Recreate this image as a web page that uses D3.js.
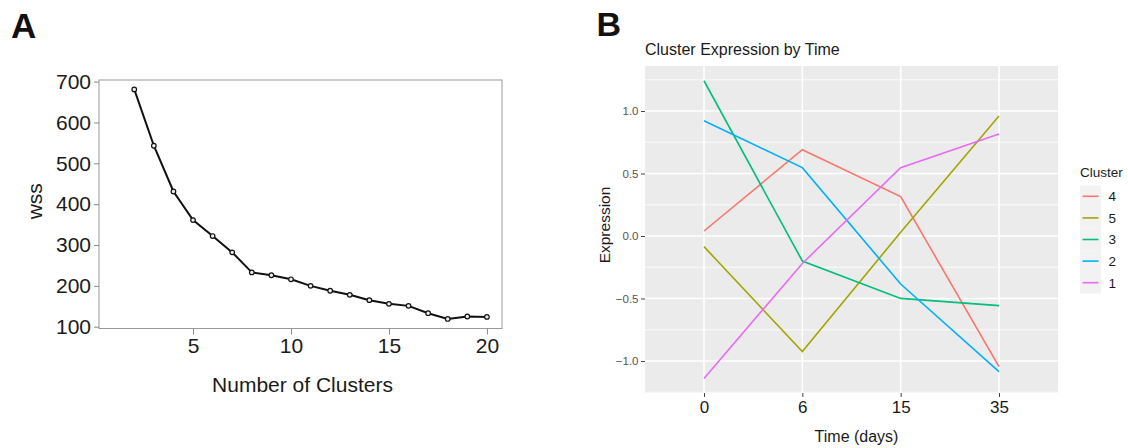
<!DOCTYPE html>
<html>
<head>
<meta charset="utf-8">
<script src="https://cdn.jsdelivr.net/npm/d3@7"></script>
<style>
    body { margin: 0; background: #fff; }
    svg { font-family: "Liberation Sans", Arial, sans-serif; }
</style>
</head>
<body>
<svg id="fig" width="1128" height="448"></svg>
<script>
// panel A - elbow plot
let clusterCounts = [2, 3, 4, 5, 6, 7, 8, 9, 10, 11, 12, 13, 14, 15, 16, 17, 18, 19, 20];
let wssValues = [681, 543, 431, 361, 322, 282, 233, 226, 216, 200, 188, 178, 165, 156, 151, 133, 119, 125, 124];
let wssTicks = [100, 200, 300, 400, 500, 600, 700];
let countTicks = [5, 10, 15, 20];

// panel B - expression by time
let timeDays = ["0", "6", "15", "35"];
let clusterNames = ["4", "5", "3", "2", "1"];
let cluster4 = [0.04, 0.69, 0.315, -1.045];
let cluster5 = [-0.085, -0.925, 0.03, 0.96];
let cluster3 = [1.242, -0.20, -0.499, -0.557];
let cluster2 = [0.922, 0.547, -0.384, -1.085];
let cluster1 = [-1.14, -0.22, 0.547, 0.816];
let clusterColors = ["#F8766D", "#A3A500", "#00BF7D", "#00B0F6", "#E76BF3"];
let exprMajor = [-1.0, -0.5, 0.0, 0.5, 1.0];
let exprMinor = [-1.25, -0.75, -0.25, 0.25, 0.75, 1.25];

let svg = d3.select("#fig");

function drawPanelA() {
    let left = 99, right = 502, top = 80, bottom = 328.5;
    let x = d3.scaleLinear().domain([0.2, 20.77]).range([left, right]);
    let y = d3.scaleLinear().domain([95.6, 704]).range([bottom, top]);
    let g = svg.append("g");

    g.append("text").attr("x", 11).attr("y", 38)
        .attr("font-size", 35).attr("font-weight", "bold").attr("fill", "#111")
        .text("A");

    g.append("rect")
        .attr("x", left).attr("y", top)
        .attr("width", right - left).attr("height", bottom - top)
        .attr("fill", "none").attr("stroke", "#9a9a9a").attr("stroke-width", 1);

    let yAxis = g.append("g")
        .attr("transform", "translate(" + left + ",0)")
        .call(d3.axisLeft(y).tickValues(wssTicks).tickSize(5).tickPadding(3));
    let xAxis = g.append("g")
        .attr("transform", "translate(0," + bottom + ")")
        .call(d3.axisBottom(x).tickValues(countTicks).tickSize(6).tickPadding(3.5));
    [xAxis, yAxis].forEach(function (ax) {
        ax.select(".domain").remove();
        ax.selectAll(".tick line").attr("stroke", "#8a8a8a");
        ax.selectAll(".tick text").attr("font-size", 21).attr("fill", "#1a1a1a")
            .attr("font-family", "Liberation Sans, Arial, sans-serif");
    });

    let line = d3.line()
        .x(function (d, i) { return x(clusterCounts[i]); })
        .y(function (d) { return y(d); });
    g.append("path").datum(wssValues)
        .attr("d", line)
        .attr("fill", "none").attr("stroke", "#111").attr("stroke-width", 2);
    g.selectAll("circle.pt").data(wssValues)
        .enter().append("circle")
        .attr("class", "pt")
        .attr("cx", function (d, i) { return x(clusterCounts[i]); })
        .attr("cy", function (d) { return y(d); })
        .attr("r", 2.3)
        .attr("fill", "#eee").attr("stroke", "#111").attr("stroke-width", 1.2);

    g.append("text")
        .attr("transform", "translate(41.5," + ((top + bottom) / 2 - 3) + ") rotate(-90)")
        .attr("text-anchor", "middle").attr("font-size", 21).attr("fill", "#1a1a1a")
        .text("wss");
    g.append("text")
        .attr("x", 302.5).attr("y", 391.5)
        .attr("text-anchor", "middle").attr("font-size", 21).attr("fill", "#1a1a1a")
        .text("Number of Clusters");
}

function drawPanelB() {
    let left = 645, right = 1058, top = 66, bottom = 393;
    let x = d3.scalePoint().domain(timeDays).range([left, right]).padding(0.6);
    let y = d3.scaleLinear().domain([-1.256, 1.36]).range([bottom, top]);
    let g = svg.append("g");

    g.append("text").attr("x", 596.5).attr("y", 36)
        .attr("font-size", 34).attr("font-weight", "bold").attr("fill", "#111")
        .text("B");
    g.append("text").attr("x", 645).attr("y", 55)
        .attr("font-size", 16).attr("fill", "#1a1a1a")
        .text("Cluster Expression by Time");

    g.append("rect")
        .attr("x", left).attr("y", top)
        .attr("width", right - left).attr("height", bottom - top)
        .attr("fill", "#EBEBEB");

    g.selectAll("line.minor").data(exprMinor)
        .enter().append("line")
        .attr("class", "minor")
        .attr("x1", left).attr("x2", right)
        .attr("y1", function (d) { return y(d); })
        .attr("y2", function (d) { return y(d); })
        .attr("stroke", "#fff").attr("stroke-width", 0.8);
    g.selectAll("line.majorY").data(exprMajor)
        .enter().append("line")
        .attr("class", "majorY")
        .attr("x1", left).attr("x2", right)
        .attr("y1", function (d) { return y(d); })
        .attr("y2", function (d) { return y(d); })
        .attr("stroke", "#fff").attr("stroke-width", 1.6);
    g.selectAll("line.majorX").data(timeDays)
        .enter().append("line")
        .attr("class", "majorX")
        .attr("y1", top).attr("y2", bottom)
        .attr("x1", function (d) { return x(d); })
        .attr("x2", function (d) { return x(d); })
        .attr("stroke", "#fff").attr("stroke-width", 1.6);

    let yAxis = g.append("g")
        .attr("transform", "translate(" + left + ",0)")
        .call(d3.axisLeft(y).tickValues(exprMajor).tickSize(4).tickPadding(2.5)
            .tickFormat(d3.format(".1f")));
    yAxis.selectAll(".tick text").attr("font-size", 11.5).attr("fill", "#555");
    let xAxis = g.append("g")
        .attr("transform", "translate(0," + bottom + ")")
        .call(d3.axisBottom(x).tickSize(4).tickPadding(3.5));
    xAxis.selectAll(".tick text").attr("font-size", 17).attr("fill", "#1a1a1a");
    [xAxis, yAxis].forEach(function (ax) {
        ax.select(".domain").remove();
        ax.selectAll(".tick line").attr("stroke", "#444");
        ax.selectAll(".tick text").attr("font-family", "Liberation Sans, Arial, sans-serif");
    });

    let series = [cluster4, cluster5, cluster3, cluster2, cluster1];
    let line = d3.line()
        .x(function (d, i) { return x(timeDays[i]); })
        .y(function (d) { return y(d); });
    g.selectAll("path.cl").data(series)
        .enter().append("path")
        .attr("class", "cl")
        .attr("d", line)
        .attr("fill", "none")
        .attr("stroke", function (d, i) { return clusterColors[i]; })
        .attr("stroke-width", 1.6);

    g.append("text")
        .attr("transform", "translate(610," + 225 + ") rotate(-90)")
        .attr("text-anchor", "middle").attr("font-size", 15.5).attr("fill", "#1a1a1a")
        .text("Expression");
    g.append("text")
        .attr("x", 856.5).attr("y", 441.5)
        .attr("text-anchor", "middle").attr("font-size", 16).attr("fill", "#1a1a1a")
        .text("Time (days)");

    // legend
    let key = g.append("g").attr("transform", "translate(1080,0)");
    key.append("text").attr("x", 0).attr("y", 176.5)
        .attr("font-size", 13.5).attr("fill", "#1a1a1a")
        .text("Cluster");
    let keyY = d3.scaleBand().domain(clusterNames).range([185.5, 293.5]);
    key.selectAll("rect.k").data(clusterNames)
        .enter().append("rect")
        .attr("class", "k")
        .attr("x", 0).attr("y", function (d) { return keyY(d); })
        .attr("width", 21).attr("height", keyY.bandwidth())
        .attr("fill", "#F2F2F2");
    key.selectAll("line.k").data(clusterNames)
        .enter().append("line")
        .attr("class", "k")
        .attr("x1", 2.5).attr("x2", 18.5)
        .attr("y1", function (d) { return keyY(d) + keyY.bandwidth() / 2; })
        .attr("y2", function (d) { return keyY(d) + keyY.bandwidth() / 2; })
        .attr("stroke", function (d, i) { return clusterColors[i]; })
        .attr("stroke-width", 1.6);
    key.selectAll("text.k").data(clusterNames)
        .enter().append("text")
        .attr("class", "k")
        .attr("x", 28.5)
        .attr("y", function (d) { return keyY(d) + keyY.bandwidth() / 2; })
        .attr("dy", "0.36em")
        .attr("font-size", 13.5).attr("fill", "#1a1a1a")
        .text(function (d) { return d; });
}

drawPanelA();
drawPanelB();
</script>
</body>
</html>
